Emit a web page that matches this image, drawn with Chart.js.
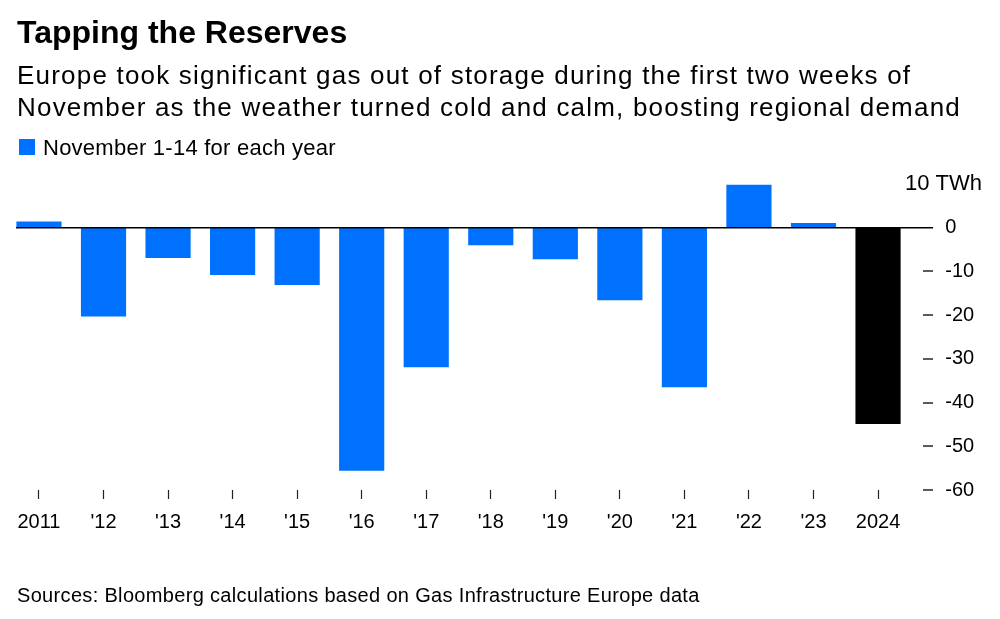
<!DOCTYPE html>
<html>
<head>
<meta charset="utf-8">
<script src="https://cdn.jsdelivr.net/npm/chart.js@4.4.1/dist/chart.umd.min.js"></script>
<style>
  body { margin: 0; background: #fff; font-family: "Liberation Sans", Arial, sans-serif; color: #000; }
  #wrap { position: relative; width: 1000px; height: 619px; overflow: hidden; }
  #chart { position: absolute; left: 0; top: 0; }
  .title { position: absolute; left: 17px; top: 13.5px; font-size: 32px; line-height: 36px; font-weight: bold; white-space: nowrap; }
  .subtitle { position: absolute; left: 17px; top: 59px; font-size: 26px; line-height: 32px; letter-spacing: 1.2px; white-space: nowrap; }
  .legend { position: absolute; left: 19px; top: 136px; font-size: 22px; line-height: 24px; letter-spacing: 0.25px; white-space: nowrap; }
  .legend span.box { display: inline-block; width: 16px; height: 16px; background: #0070ff; vertical-align: baseline; margin-right: 8px; }
  .source { position: absolute; left: 17px; top: 583px; font-size: 20px; line-height: 24px; letter-spacing: 0.33px; white-space: nowrap; }
</style>
</head>
<body>
<div id="wrap">
  <canvas id="chart" width="1000" height="619"></canvas>
  <div class="title">Tapping the Reserves</div>
  <div class="subtitle">Europe took significant gas out of storage during the first two weeks of<br>November as the weather turned cold and calm, boosting regional demand</div>
  <div class="legend"><span class="box"></span>November 1-14 for each year</div>
  <div class="source">Sources: Bloomberg calculations based on Gas Infrastructure Europe data</div>
</div>
<script>
// ข้อมูลของกราฟ
const years = ['2011', "'12", "'13", "'14", "'15", "'16", "'17", "'18", "'19", "'20", "'21", "'22", "'23", '2024'];
const storageChange = [1.4, -20.3, -6.9, -10.8, -13.1, -55.6, -31.9, -4.0, -7.2, -16.6, -36.5, 9.8, 1.1, -44.9];
const yTicks = [10, 0, -10, -20, -30, -40, -50, -60];

const BLUE = '#0070ff';
const barColors = years.map(function(y) { return y === '2024' ? '#000000' : BLUE; });

// เส้นศูนย์ ขีดแกน y และป้าย TWh
const decorPlugin = {
    id: 'decor',
    afterDatasetsDraw: function(chart) {
        const ctx = chart.ctx;
        const y = chart.scales.y;
        const zero = y.getPixelForValue(0);
        ctx.save();
        ctx.strokeStyle = '#000';
        ctx.lineWidth = 1.5;
        ctx.beginPath();
        ctx.moveTo(16, zero);
        ctx.lineTo(933, zero);
        ctx.stroke();

        ctx.lineWidth = 1.6;
        ctx.strokeStyle = '#333';
        yTicks.forEach(function(v) {
            if (v >= 0) return;
            const py = Math.round(y.getPixelForValue(v));
            ctx.beginPath();
            ctx.moveTo(923, py);
            ctx.lineTo(933, py);
            ctx.stroke();
        });

        ctx.fillStyle = '#000';
        ctx.font = '22px "Liberation Sans", Arial, sans-serif';
        ctx.textAlign = 'right';
        ctx.textBaseline = 'middle';
        ctx.fillText('10 TWh', 982, y.getPixelForValue(10));
        ctx.restore();
    }
};

new Chart(document.getElementById('chart'), {
    type: 'bar',
    data: {
        labels: years,
        datasets: [{
            label: 'November 1-14 for each year',
            data: storageChange,
            backgroundColor: barColors,
            barPercentage: 0.7,
            categoryPercentage: 1.0
        }]
    },
    options: {
        responsive: false,
        animation: false,
        devicePixelRatio: 1,
        layout: { padding: { top: 184, left: 6.7, right: 0, bottom: 69 } },
        plugins: {
            legend: { display: false },
            tooltip: { enabled: false }
        },
        scales: {
            x: {
                grid: { display: true, drawOnChartArea: false, drawTicks: true, tickLength: 9, tickColor: '#222', tickWidth: 1.2, offset: false },
                border: { display: false },
                ticks: {
                    color: '#000',
                    padding: 11,
                    maxRotation: 0,
                    autoSkip: false,
                    font: { family: '"Liberation Sans", Arial, sans-serif', size: 20 }
                },
                afterFit: function(scale) { scale.height = 60; }
            },
            y: {
                position: 'right',
                min: -60,
                max: 10,
                grid: { display: false },
                border: { display: false },
                afterBuildTicks: function(scale) {
                    scale.ticks = yTicks.map(function(v) { return { value: v }; });
                },
                ticks: {
                    color: '#000',
                    padding: 27,
                    font: { family: '"Liberation Sans", Arial, sans-serif', size: 20 },
                    callback: function(value) { return value === 10 ? '' : String(value); }
                },
                afterFit: function(scale) { scale.width = 89.7; }
            }
        }
    },
    plugins: [decorPlugin]
});
</script>
</body>
</html>
